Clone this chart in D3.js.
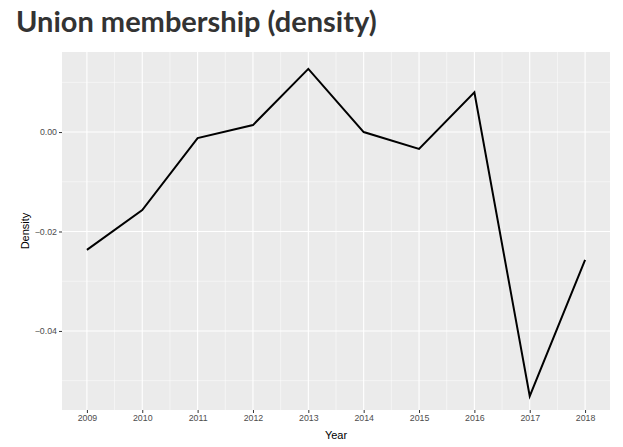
<!DOCTYPE html>
<html>
<head>
<meta charset="UTF-8">
<script src="https://d3js.org/d3.v7.min.js"></script>
<style>body{margin:0;background:#fff}</style>
</head>
<body>
<svg id="chart" width="623" height="447"></svg>
<script>
// Data
var years = [2009, 2010, 2011, 2012, 2013, 2014, 2015, 2016, 2017, 2018]
var density = [-0.0237, -0.0157, -0.0012, 0.0014, 0.0127, 0.0000, -0.0034, 0.0080, -0.0531, -0.0257]
var yTicks = [0.00, -0.02, -0.04]

var svg = d3.select('#chart')
var pLeft = 62, pRight = 610, pTop = 52, pBottom = 410

var x = d3.scaleLinear().domain([2009 - 0.45, 2018 + 0.45]).range([pLeft, pRight])
var y = d3.scaleLinear().domain([-0.0559, 0.0161]).range([pBottom, pTop])

svg.append('text').attr('x', 16).attr('y', 32)
  .attr('font-family', 'Lato, sans-serif').attr('font-weight', 'bold')
  .attr('font-size', 29).attr('fill', '#333').text('Union membership (density)')

svg.append('rect').attr('x', pLeft).attr('y', pTop)
  .attr('width', pRight - pLeft).attr('height', pBottom - pTop).attr('fill', '#ebebeb')

// minor grid
var minorY = yTicks.map(d => d + 0.01).concat([-0.05])
svg.selectAll('.minY').data(minorY).enter().append('line')
  .attr('x1', pLeft).attr('x2', pRight).attr('y1', d => y(d)).attr('y2', d => y(d))
  .attr('stroke', '#fff').attr('stroke-width', 0.5)
var minorX = years.slice(1).map(d => d - 0.5)
svg.selectAll('.minX').data(minorX).enter().append('line')
  .attr('y1', pTop).attr('y2', pBottom).attr('x1', d => x(d)).attr('x2', d => x(d))
  .attr('stroke', '#fff').attr('stroke-width', 0.5)

// major grid
svg.selectAll('.majY').data(yTicks).enter().append('line')
  .attr('x1', pLeft).attr('x2', pRight).attr('y1', d => y(d)).attr('y2', d => y(d))
  .attr('stroke', '#fff').attr('stroke-width', 1.1)
svg.selectAll('.majX').data(years).enter().append('line')
  .attr('y1', pTop).attr('y2', pBottom).attr('x1', d => x(d)).attr('x2', d => x(d))
  .attr('stroke', '#fff').attr('stroke-width', 1.1)

// axes
var xa = svg.append('g').attr('transform', 'translate(0,' + pBottom + ')')
  .call(d3.axisBottom(x).tickValues(years).tickFormat(d3.format('d')).tickSize(3).tickPadding(2))
var ya = svg.append('g').attr('transform', 'translate(' + pLeft + ',0)')
  .call(d3.axisLeft(y).tickValues(yTicks).tickFormat(d3.format('.2f')).tickSize(3).tickPadding(2))
;[xa, ya].forEach(function(a) {
  a.select('.domain').remove()
  a.selectAll('line').attr('stroke', '#333')
  a.selectAll('text').attr('fill', '#4d4d4d').attr('font-size', 8.8).attr('font-family', 'Liberation Sans, Arial, sans-serif')
})

svg.append('text').attr('x', (pLeft + pRight) / 2).attr('y', 439).attr('text-anchor', 'middle')
  .attr('font-family', 'Liberation Sans, Arial, sans-serif').attr('font-size', 11).text('Year')
svg.append('text').attr('transform', 'translate(29,' + (pTop + pBottom) / 2 + ') rotate(-90)')
  .attr('text-anchor', 'middle')
  .attr('font-family', 'Liberation Sans, Arial, sans-serif').attr('font-size', 11).text('Density')

var line = d3.line().x((d, i) => x(years[i])).y(d => y(d))
svg.append('path').datum(density).attr('d', line)
  .attr('fill', 'none').attr('stroke', '#000').attr('stroke-width', 2)
</script>
</body>
</html>
